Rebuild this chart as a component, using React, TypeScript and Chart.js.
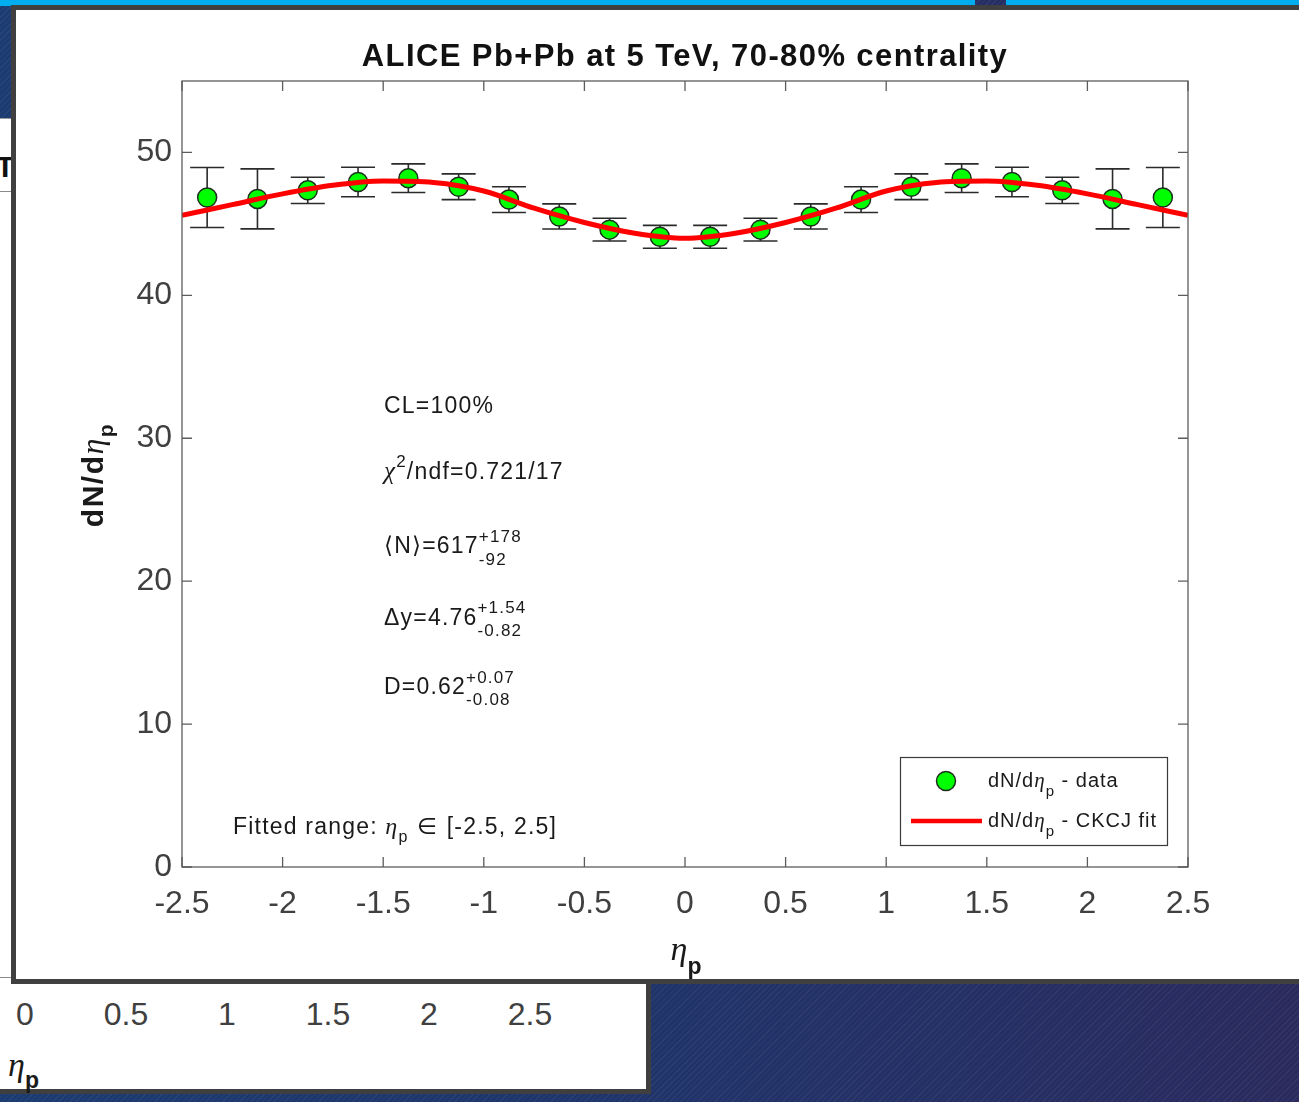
import React, { useEffect, useRef } from 'react';
import { Chart, registerables } from 'chart.js';

Chart.register(...registerables);

// Measured dN/dη_p per pseudorapidity bin (bin centres) with symmetric errors
const ETA_BINS = [
  -2.375, -2.125, -1.875, -1.625, -1.375, -1.125, -0.875, -0.625, -0.375, -0.125,
  0.125, 0.375, 0.625, 0.875, 1.125, 1.375, 1.625, 1.875, 2.125, 2.375,
];
const DNDETA = [
  46.85, 46.75, 47.35, 47.93, 48.2, 47.6, 46.7, 45.52, 44.6, 44.1,
  44.1, 44.6, 45.52, 46.7, 47.6, 48.2, 47.93, 47.35, 46.75, 46.85,
];
const DNDETA_ERR = [
  2.1, 2.1, 0.92, 1.03, 1.0, 0.9, 0.9, 0.88, 0.8, 0.8,
  0.8, 0.8, 0.88, 0.9, 0.9, 1.0, 1.03, 0.92, 2.1, 2.1,
];

// CKCJ fit curve sampled along η_p
const FIT_ETA = [
  -2.5, -2.25, -2.0, -1.75, -1.5, -1.25, -1.0, -0.75, -0.5, -0.25, 0,
  0.25, 0.5, 0.75, 1.0, 1.25, 1.5, 1.75, 2.0, 2.25, 2.5,
];
const FIT_DNDETA = [
  45.6, 46.35, 47.1, 47.7, 48.0, 47.9, 47.3, 46.1, 45.1, 44.35, 44.0,
  44.35, 45.1, 46.1, 47.3, 47.9, 48.0, 47.7, 47.1, 46.35, 45.6,
];

const X_TICKS = [-2.5, -2, -1.5, -1, -0.5, 0, 0.5, 1, 1.5, 2, 2.5];
const X_TICK_LABELS = ['-2.5', '-2', '-1.5', '-1', '-0.5', '0', '0.5', '1', '1.5', '2', '2.5'];
const Y_TICKS = [0, 10, 20, 30, 40, 50];
const Y_TICK_LABELS = ['0', '10', '20', '30', '40', '50'];

// tick labels of the neighbouring figure underneath
const BACK_X_LABELS = ['0', '0.5', '1', '1.5', '2', '2.5'];

const SANS = '"Liberation Sans", Arial, Helvetica, sans-serif';
const SERIF = '"Liberation Serif", "Times New Roman", serif';
const SYMBOL = '"DejaVu Sans", "Liberation Sans", sans-serif';

const TEXT = '#1a1a1a';
const AXIS_TEXT = '#404040';
const MARKER_FILL = '#00ff00';
const MARKER_EDGE = '#1d2f1d';
const FIT_RED = '#ff0000';

type Part =
  | { t: string; font: string; dy?: number }
  | { sup: string; sub: string; font: string; up: number; down: number };

function richWidth(ctx: CanvasRenderingContext2D, parts: Part[]) {
  let w = 0;
  for (const p of parts) {
    ctx.font = p.font;
    if ('sup' in p) {
      w += Math.max(ctx.measureText(p.sup).width, ctx.measureText(p.sub).width);
    } else {
      w += ctx.measureText(p.t).width;
    }
  }
  return w;
}

function drawRich(ctx: CanvasRenderingContext2D, x: number, y: number, parts: Part[]) {
  ctx.textAlign = 'left';
  ctx.textBaseline = 'alphabetic';
  let cx = x;
  for (const p of parts) {
    ctx.font = p.font;
    if ('sup' in p) {
      ctx.fillText(p.sup, cx, y - p.up);
      ctx.fillText(p.sub, cx, y + p.down);
      cx += Math.max(ctx.measureText(p.sup).width, ctx.measureText(p.sub).width);
    } else {
      ctx.fillText(p.t, cx, y + (p.dy || 0));
      cx += ctx.measureText(p.t).width;
    }
  }
  return cx - x;
}

const ANN = `23px ${SANS}`;
const ANN_SMALL = `17px ${SANS}`;

const overlayPlugin = {
  id: 'matlabOverlay',
  beforeDatasetsDraw(chart: any) {
    const { ctx, scales } = chart;
    const x = scales.x;
    const y = scales.y;
    const cap = 17;
    ctx.save();
    ctx.strokeStyle = '#2b2b2b';
    ctx.lineWidth = 1.6;
    ETA_BINS.forEach((eta, i) => {
      const px = x.getPixelForValue(eta);
      const top = y.getPixelForValue(DNDETA[i] + DNDETA_ERR[i]);
      const bot = y.getPixelForValue(DNDETA[i] - DNDETA_ERR[i]);
      ctx.beginPath();
      ctx.moveTo(px, top);
      ctx.lineTo(px, bot);
      ctx.moveTo(px - cap, top);
      ctx.lineTo(px + cap, top);
      ctx.moveTo(px - cap, bot);
      ctx.lineTo(px + cap, bot);
      ctx.stroke();
    });
    ctx.restore();
  },
  afterDraw(chart: any) {
    const { ctx, chartArea: a, scales } = chart;
    const x = scales.x;
    const y = scales.y;

    // axes box with inward ticks on all four sides
    ctx.save();
    ctx.strokeStyle = '#5c5c5c';
    ctx.lineWidth = 1.3;
    ctx.strokeRect(a.left, a.top, a.right - a.left, a.bottom - a.top);
    const tl = 10;
    ctx.beginPath();
    X_TICKS.forEach((v) => {
      const px = x.getPixelForValue(v);
      ctx.moveTo(px, a.bottom);
      ctx.lineTo(px, a.bottom - tl);
      ctx.moveTo(px, a.top);
      ctx.lineTo(px, a.top + tl);
    });
    Y_TICKS.forEach((v) => {
      const py = y.getPixelForValue(v);
      ctx.moveTo(a.left, py);
      ctx.lineTo(a.left + tl, py);
      ctx.moveTo(a.right, py);
      ctx.lineTo(a.right - tl, py);
    });
    ctx.stroke();
    ctx.restore();

    // legend
    ctx.save();
    const lx = a.right - 288;
    const ly = a.bottom - 110;
    const lw = 267;
    const lh = 88;
    ctx.fillStyle = '#ffffff';
    ctx.fillRect(lx, ly, lw, lh);
    ctx.strokeStyle = '#3a3a3a';
    ctx.lineWidth = 1.2;
    ctx.strokeRect(lx + 0.5, ly + 0.5, lw, lh);
    ctx.beginPath();
    ctx.arc(lx + 46, ly + 24, 9.5, 0, Math.PI * 2);
    ctx.fillStyle = MARKER_FILL;
    ctx.fill();
    ctx.lineWidth = 1.5;
    ctx.strokeStyle = MARKER_EDGE;
    ctx.stroke();
    ctx.beginPath();
    ctx.moveTo(lx + 11, ly + 64);
    ctx.lineTo(lx + 82, ly + 64);
    ctx.strokeStyle = FIT_RED;
    ctx.lineWidth = 4.5;
    ctx.stroke();
    ctx.fillStyle = TEXT;
    (ctx as any).letterSpacing = '1px';
    const legFont = `20px ${SANS}`;
    const eta = (s: number) => `italic ${s}px ${SERIF}`;
    drawRich(ctx, lx + 88, ly + 30, [
      { t: 'dN/d', font: legFont },
      { t: 'η', font: eta(21) },
      { t: 'p', font: `15px ${SANS}`, dy: 9 },
      { t: ' - data', font: legFont },
    ]);
    drawRich(ctx, lx + 88, ly + 70, [
      { t: 'dN/d', font: legFont },
      { t: 'η', font: eta(21) },
      { t: 'p', font: `15px ${SANS}`, dy: 9 },
      { t: ' - CKCJ fit', font: legFont },
    ]);
    ctx.restore();

    // fit summary
    ctx.save();
    ctx.fillStyle = TEXT;
    (ctx as any).letterSpacing = '1.2px';
    const ax = a.left + 202;
    drawRich(ctx, ax, 413, [{ t: 'CL=100%', font: ANN }]);
    drawRich(ctx, ax, 479, [
      { t: 'χ', font: `italic 25px ${SERIF}` },
      { t: '2', font: ANN_SMALL, dy: -12 },
      { t: '/ndf=0.721/17', font: ANN },
    ]);
    drawRich(ctx, ax, 553, [
      { t: '⟨', font: `23px ${SYMBOL}` },
      { t: 'N', font: ANN },
      { t: '⟩', font: `23px ${SYMBOL}` },
      { t: '=617', font: ANN },
      { sup: '+178', sub: '-92', font: ANN_SMALL, up: 11, down: 12 },
    ]);
    drawRich(ctx, ax, 625, [
      { t: 'Δy=4.76', font: ANN },
      { sup: '+1.54', sub: '-0.82', font: ANN_SMALL, up: 12, down: 11 },
    ]);
    drawRich(ctx, ax, 694, [
      { t: 'D=0.62', font: ANN },
      { sup: '+0.07', sub: '-0.08', font: ANN_SMALL, up: 11, down: 11 },
    ]);
    drawRich(ctx, a.left + 51, 834, [
      { t: 'Fitted range: ', font: ANN },
      { t: 'η', font: `italic 24px ${SERIF}` },
      { t: 'p', font: `16px ${SANS}`, dy: 8 },
      { t: ' ∈ ', font: `23px ${SYMBOL}` },
      { t: '[-2.5, 2.5]', font: ANN },
    ]);
    ctx.restore();

    // title
    ctx.save();
    ctx.fillStyle = '#111111';
    (ctx as any).letterSpacing = '1.4px';
    const titleParts: Part[] = [{ t: 'ALICE Pb+Pb at 5 TeV, 70-80% centrality', font: `bold 31px ${SANS}` }];
    const cxTitle = (a.left + a.right) / 2;
    const tw = richWidth(ctx, titleParts);
    drawRich(ctx, cxTitle - tw / 2, 66, titleParts);
    ctx.restore();

    // x-axis title
    ctx.save();
    ctx.fillStyle = '#1a1a1a';
    const xt: Part[] = [
      { t: 'η', font: `italic 34px ${SERIF}` },
      { t: 'p', font: `bold 23px ${SANS}`, dy: 14 },
    ];
    const xw = richWidth(ctx, xt);
    drawRich(ctx, cxTitle + 1 - xw / 2, 960, xt);
    ctx.restore();

    // y-axis title, rotated
    ctx.save();
    ctx.fillStyle = '#1a1a1a';
    (ctx as any).letterSpacing = '1.5px';
    const yt: Part[] = [
      { t: 'dN/d', font: `bold 30px ${SANS}` },
      { t: 'η', font: `italic 32px ${SERIF}` },
      { t: 'p', font: `bold 21px ${SANS}`, dy: 10 },
    ];
    const yw = richWidth(ctx, yt);
    const yMid = (a.top + a.bottom) / 2 + 1;
    ctx.translate(103, yMid + yw / 2);
    ctx.rotate(-Math.PI / 2);
    drawRich(ctx, 0, 0, yt);
    ctx.restore();
  },
};

function FitChart() {
  const ref = useRef<HTMLCanvasElement | null>(null);

  useEffect(() => {
    const canvas = ref.current;
    if (!canvas) return;
    const tickFont = { family: SANS, size: 32 };
    const chart = new Chart(canvas, {
      type: 'line',
      data: {
        datasets: [
          {
            label: 'dN/dη_p - CKCJ fit',
            data: FIT_ETA.map((e, i) => ({ x: e, y: FIT_DNDETA[i] })),
            borderColor: FIT_RED,
            borderWidth: 5,
            pointRadius: 0,
            cubicInterpolationMode: 'monotone',
            fill: false,
            order: 0,
          },
          {
            label: 'dN/dη_p - data',
            data: ETA_BINS.map((e, i) => ({ x: e, y: DNDETA[i] })),
            showLine: false,
            pointRadius: 9.5,
            pointBackgroundColor: MARKER_FILL,
            pointBorderColor: MARKER_EDGE,
            pointBorderWidth: 1.5,
            order: 1,
          },
        ],
      },
      options: {
        responsive: false,
        animation: false,
        devicePixelRatio: 1,
        events: [],
        layout: { padding: { left: 0, top: 81, right: 111, bottom: 0 } },
        plugins: {
          legend: { display: false },
          tooltip: { enabled: false },
          title: { display: false },
        },
        scales: {
          x: {
            type: 'linear',
            min: -2.5,
            max: 2.5,
            grid: { display: false },
            border: { display: false },
            afterBuildTicks: (s: any) => {
              s.ticks = X_TICKS.map((v) => ({ value: v }));
            },
            afterFit: (s: any) => {
              s.height = 235;
            },
            ticks: {
              autoSkip: false,
              maxRotation: 0,
              padding: 10,
              color: AXIS_TEXT,
              font: tickFont,
              callback: (_v: any, i: number) => X_TICK_LABELS[i],
            },
          },
          y: {
            type: 'linear',
            min: 0,
            max: 55,
            grid: { display: false },
            border: { display: false },
            afterBuildTicks: (s: any) => {
              s.ticks = Y_TICKS.map((v) => ({ value: v }));
            },
            afterFit: (s: any) => {
              s.width = 182;
            },
            ticks: {
              padding: 2,
              color: AXIS_TEXT,
              font: tickFont,
              callback: (_v: any, i: number) => Y_TICK_LABELS[i],
            },
          },
        },
      } as any,
      plugins: [overlayPlugin],
    } as any);
    return () => chart.destroy();
  }, []);

  return (
    <canvas
      ref={ref}
      width={1299}
      height={1102}
      style={{ position: 'absolute', left: 0, top: 0, display: 'block' }}
    />
  );
}

export default function App() {
  const abs = (s: React.CSSProperties): React.CSSProperties => ({ position: 'absolute', ...s });
  return (
    <div
      style={abs({
        left: 0,
        top: 0,
        width: 1299,
        height: 1102,
        overflow: 'hidden',
        background: 'linear-gradient(90deg, #1c3b70 0%, #1f356b 45%, #2a2a5e 100%)',
        fontFamily: SANS,
      })}
    >
      {/* diagonal hatching of the slide background */}
      <div
        style={abs({
          left: 0,
          top: 0,
          width: 1299,
          height: 1102,
          backgroundImage:
            'repeating-linear-gradient(135deg, rgba(255,255,255,0.05) 0px, rgba(255,255,255,0.05) 1px, rgba(0,0,0,0) 1px, rgba(0,0,0,0) 4px)',
        })}
      />
      {/* cyan header band */}
      <div style={abs({ left: 0, top: 0, width: 975, height: 6, background: '#00aeef' })} />
      <div style={abs({ left: 1006, top: 0, width: 293, height: 6, background: '#00aeef' })} />

      {/* neighbouring figure underneath */}
      <div
        style={abs({
          left: -10,
          top: 118,
          width: 661,
          height: 976,
          background: '#ffffff',
          borderTop: '1px solid #9a9a9a',
          borderRight: '5px solid #3f3f3f',
          borderBottom: '5px solid #3f3f3f',
          boxSizing: 'border-box',
        })}
      />
      <div
        style={abs({
          left: -4,
          top: 152,
          fontSize: 30,
          lineHeight: '30px',
          fontWeight: 'bold',
          color: '#111',
        })}
      >
        T
      </div>
      <div style={abs({ left: 0, top: 191, width: 12, height: 1, background: '#8a8a8a' })} />
      <div style={abs({ left: 0, top: 977, width: 12, height: 1, background: '#8a8a8a' })} />
      {BACK_X_LABELS.map((lab, i) => (
        <div
          key={lab}
          style={abs({
            left: 25 + i * 101,
            top: 1014,
            transform: 'translate(-50%, -50%)',
            fontSize: 32,
            lineHeight: '32px',
            color: AXIS_TEXT,
            whiteSpace: 'nowrap',
          })}
        >
          {lab}
        </div>
      ))}
      <div style={abs({ left: 8, top: 1048, lineHeight: '34px', color: '#1a1a1a', whiteSpace: 'nowrap' })}>
        <span style={{ fontFamily: SERIF, fontStyle: 'italic', fontSize: 34 }}>η</span>
        <span style={{ fontWeight: 'bold', fontSize: 23, position: 'relative', top: 12 }}>p</span>
      </div>

      {/* main figure panel */}
      <div
        style={abs({
          left: 11,
          top: 5,
          width: 1320,
          height: 979,
          background: '#ffffff',
          border: '5px solid #404040',
          boxSizing: 'border-box',
        })}
      />
      <FitChart />
    </div>
  );
}
